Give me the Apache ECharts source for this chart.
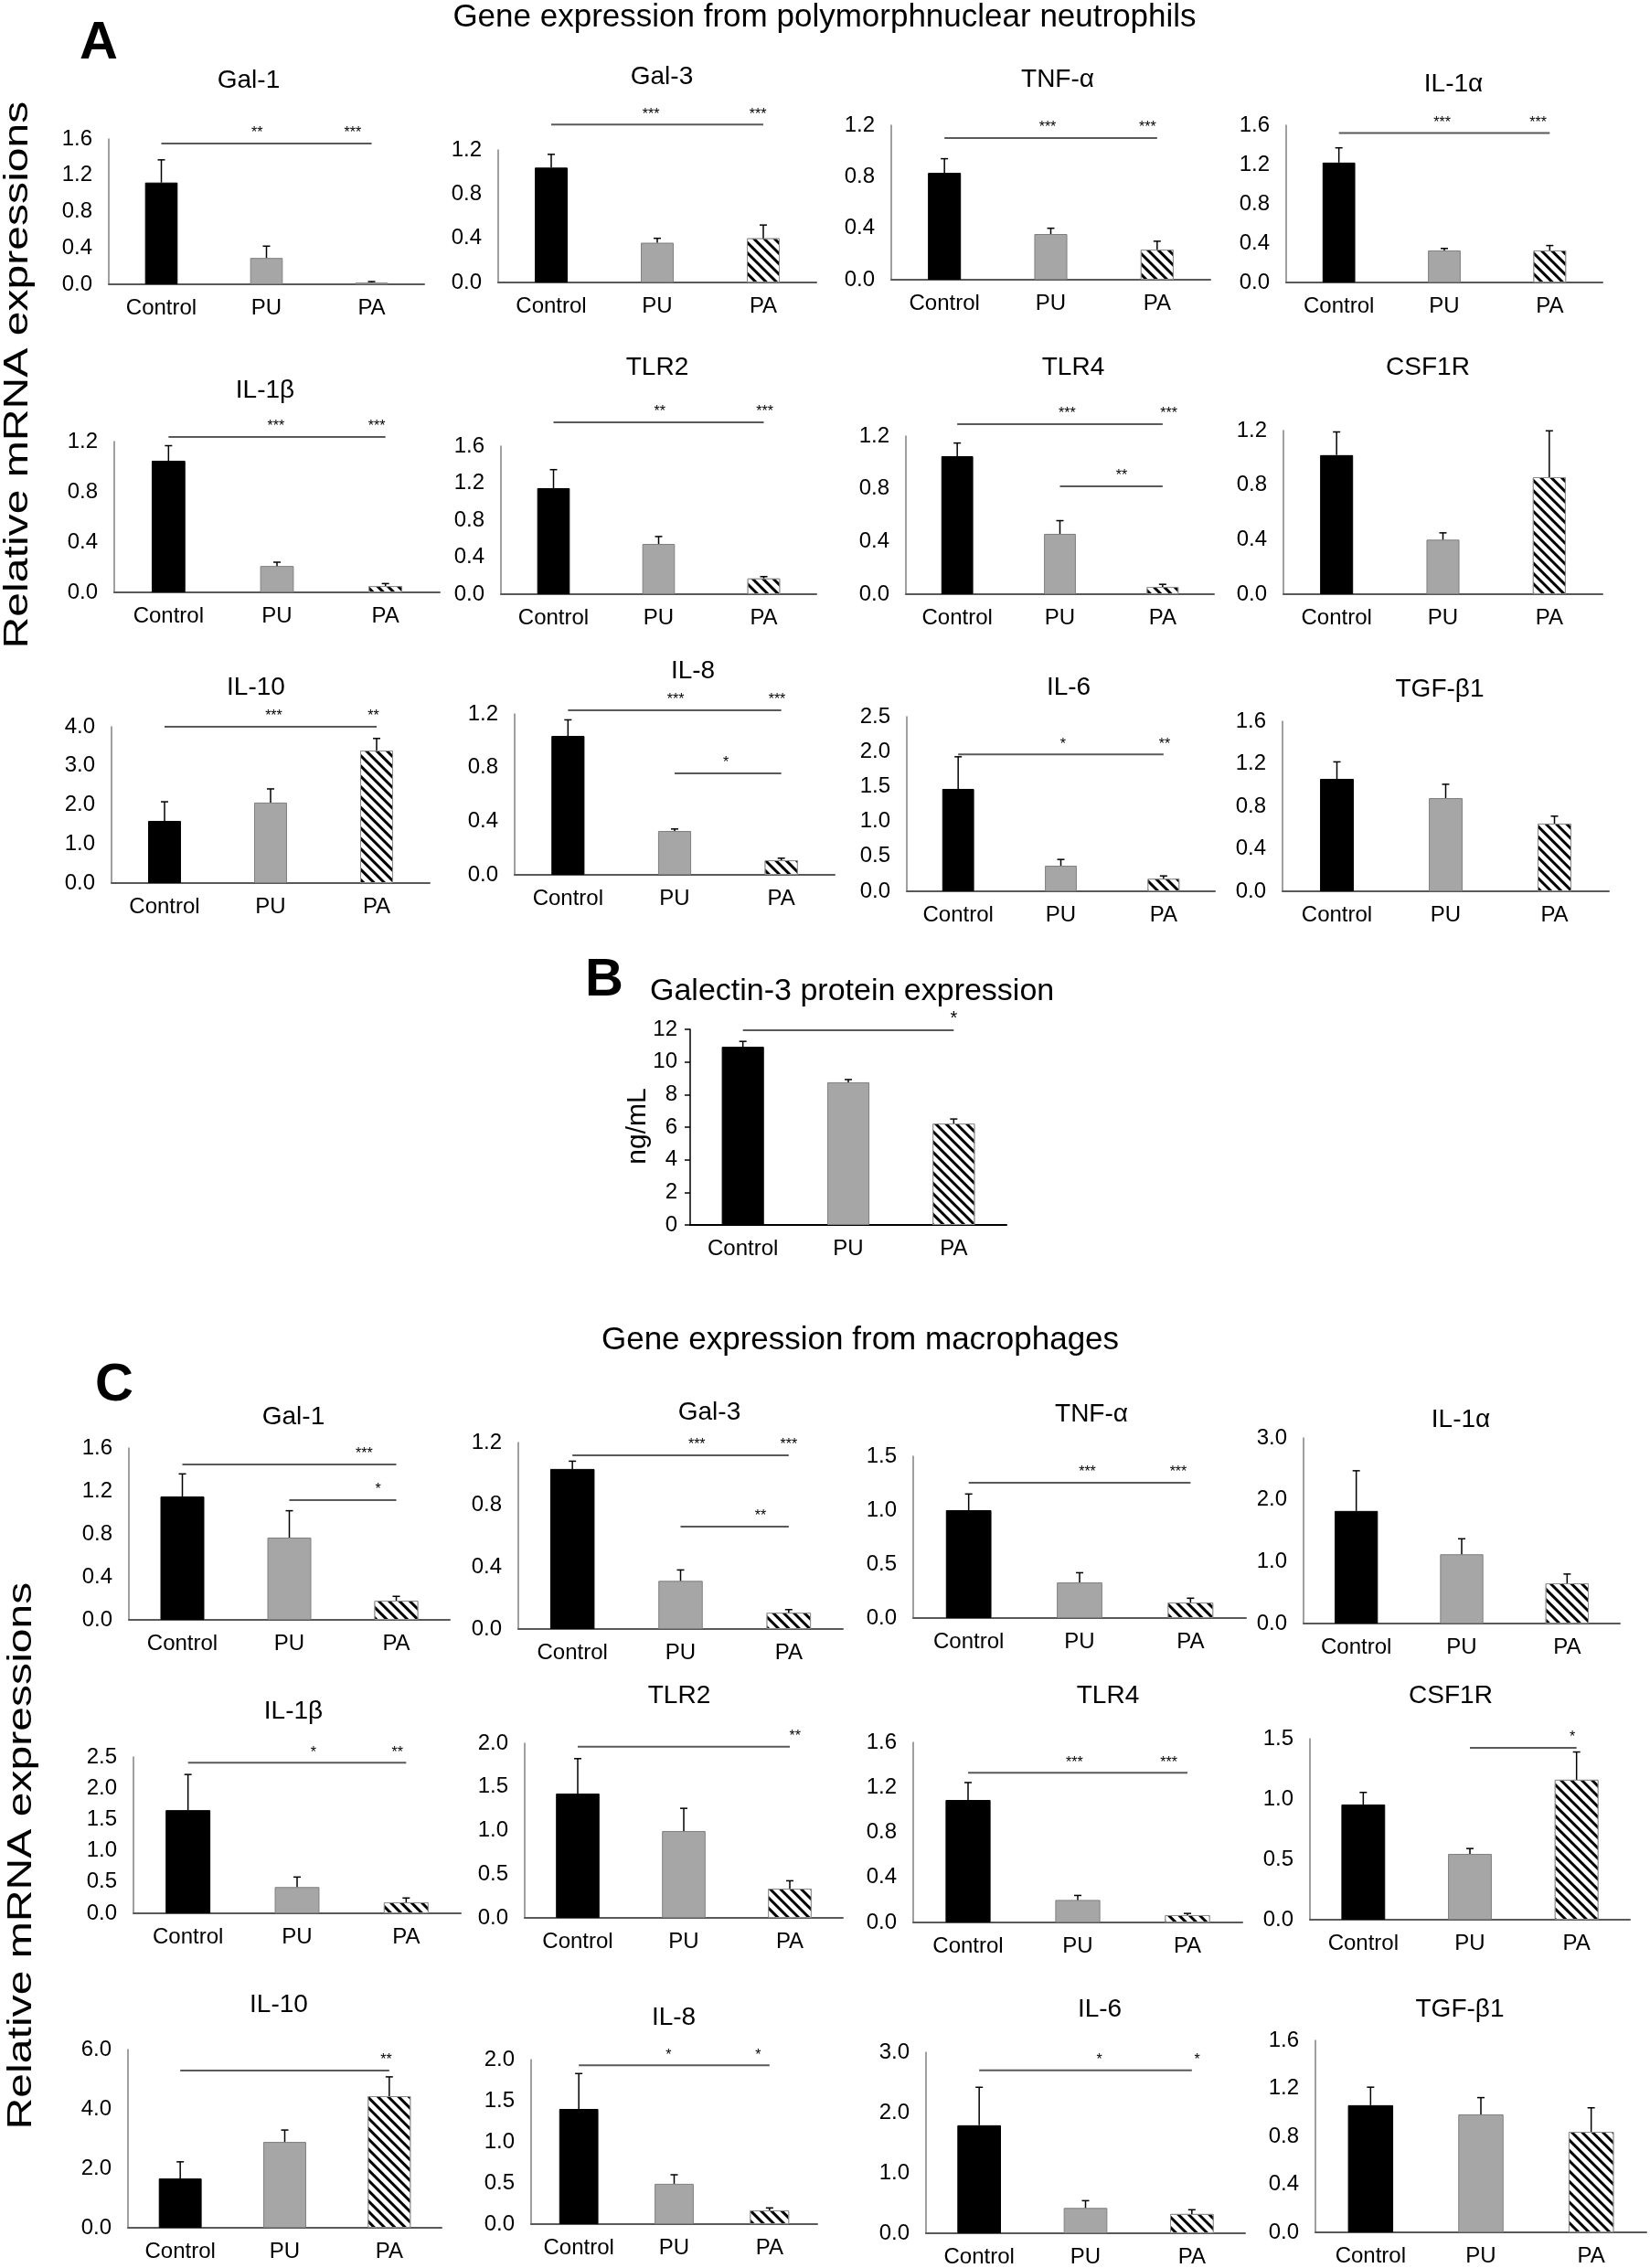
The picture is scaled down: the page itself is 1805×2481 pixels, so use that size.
<!DOCTYPE html>
<html>
<head>
<meta charset="utf-8">
<script src="https://cdn.jsdelivr.net/npm/echarts@6/dist/echarts.min.js"></script>
<style>
html,body{margin:0;padding:0;background:#fff;}
#chart{width:1805px;height:2481px;}
</style>
</head>
<body>
<div id="chart"></div>
<script>
// ---------------- DATA ----------------
const categories = ['Control', 'PU', 'PA'];
const geneNames = ['Gal-1', 'Gal-3', 'TNF-α', 'IL-1α', 'IL-1β', 'TLR2', 'TLR4', 'CSF1R', 'IL-10', 'IL-8', 'IL-6', 'TGF-β1'];

// Panel A: neutrophils
const neutrophilMean = [
  [1.12, 0.29, 0.02], [1.04, 0.36, 0.40], [0.83, 0.355, 0.234], [1.22, 0.326, 0.326],
  [1.047, 0.21, 0.05], [1.146, 0.543, 0.17], [1.047, 0.458, 0.055], [1.02, 0.40, 0.858],
  [1.59, 2.06, 3.39], [1.036, 0.327, 0.109], [1.466, 0.366, 0.18], [1.058, 0.877, 0.637]
];
const neutrophilErr = [
  [0.25, 0.13, 0.01], [0.12, 0.04, 0.12], [0.11, 0.045, 0.065], [0.15, 0.02, 0.05],
  [0.12, 0.03, 0.02], [0.2, 0.08, 0.02], [0.1, 0.1, 0.02], [0.17, 0.05, 0.34],
  [0.49, 0.35, 0.31], [0.12, 0.015, 0.015], [0.46, 0.09, 0.04], [0.16, 0.13, 0.07]
];
const neutrophilAxisMax = [1.6, 1.2, 1.2, 1.6, 1.2, 1.6, 1.2, 1.2, 4.0, 1.2, 2.5, 1.6];
const neutrophilAxisStep = [0.4, 0.4, 0.4, 0.4, 0.4, 0.4, 0.4, 0.4, 1.0, 0.4, 0.5, 0.4];
// [fromCategory, toCategory, level, [[stars, position in category units]]]
const neutrophilSig = [
  [[0, 2, 1.55, [['**', 0.91], ['***', 1.82]]]],
  [[0, 2, 1.43, [['***', 0.94], ['***', 1.95]]]],
  [[0, 2, 1.10, [['***', 0.97], ['***', 1.91]]]],
  [[0, 2, 1.52, [['***', 0.98], ['***', 1.89]]]],
  [[0, 2, 1.236, [['***', 0.99], ['***', 1.92]]]],
  [[0, 2, 1.857, [['**', 1.01], ['***', 2.01]]]],
  [[0, 2, 1.29, [['***', 1.07], ['***', 2.06]]], [1, 2, 0.818, [['**', 1.6]]]],
  [],
  [[0, 2, 4.0, [['***', 1.03], ['**', 1.97]]]],
  [[0, 2, 1.227, [['***', 1.01], ['***', 1.96]]], [1, 2, 0.757, [['*', 1.48]]]],
  [[0, 2, 1.96, [['*', 1.02], ['**', 2.01]]]],
  []
];

// Panel B: galectin-3 protein
const galectinMean = [10.93, 8.75, 6.22];
const galectinErr = [0.33, 0.17, 0.28];
const galectinTicks = [0, 2, 4, 6, 8, 10, 12];
const galectinSig = [[0, 2, 11.94, [['*', 2.0]]]];

// Panel C: macrophages
const macrophageMean = [
  [1.149, 0.766, 0.179], [1.03, 0.31, 0.105], [1.0, 0.33, 0.144], [1.82, 1.12, 0.65],
  [1.65, 0.42, 0.175], [1.424, 0.995, 0.335], [1.088, 0.20, 0.065], [0.955, 0.545, 1.16],
  [1.66, 2.89, 4.43], [1.40, 0.49, 0.167], [1.79, 0.42, 0.32], [1.06, 0.983, 0.838]
];
const macrophageErr = [
  [0.21, 0.25, 0.04], [0.05, 0.07, 0.02], [0.15, 0.09, 0.04], [0.65, 0.25, 0.15],
  [0.57, 0.16, 0.07], [0.4, 0.26, 0.09], [0.155, 0.04, 0.015], [0.1, 0.045, 0.23],
  [0.56, 0.4, 0.65], [0.43, 0.11, 0.03], [0.63, 0.12, 0.07], [0.15, 0.14, 0.2]
];
const macrophageAxisMax = [1.6, 1.2, 1.5, 3.0, 2.5, 2.0, 1.6, 1.5, 6.0, 2.0, 3.0, 1.6];
const macrophageAxisStep = [0.4, 0.4, 0.5, 1.0, 0.5, 0.5, 0.4, 0.5, 2.0, 0.5, 1.0, 0.4];
const macrophageSig = [
  [[0, 2, 1.447, [['***', 1.7]]], [1, 2, 1.115, [['*', 1.83]]]],
  [[0, 2, 1.118, [['***', 1.15], ['***', 2.0]]], [1, 2, 0.659, [['**', 1.74]]]],
  [[0, 2, 1.254, [['***', 1.07], ['***', 1.89]]]],
  [],
  [[0, 2, 2.41, [['*', 1.15], ['**', 1.92]]]],
  [[0, 2, 1.96, [['**', 2.05]]]],
  [[0, 2, 1.33, [['***', 0.97], ['***', 1.83]]]],
  [[1, 2, 1.424, [['*', 1.96]]]],
  [[0, 2, 5.29, [['**', 1.97]]]],
  [[0, 2, 1.93, [['*', 0.94], ['*', 1.88]]]],
  [[0, 2, 2.70, [['*', 1.13], ['*', 2.05]]]],
  []
];

// ---------------- LAYOUT ----------------
// plot rectangles [left, top, right, bottom] and title centres [x, y]
const neutrophilRect = [
  [119, 152, 464, 311], [545, 164, 893, 309], [975, 137, 1324, 306], [1407, 137, 1753, 309],
  [125, 483, 481, 648], [548, 488, 893, 650], [991, 477, 1328, 650], [1404, 471, 1753, 650],
  [122, 795, 470, 966], [563, 781, 913, 957], [992, 784, 1329, 975], [1403, 789, 1760, 975]
];
const neutrophilTitlePos = [
  [272, 88], [724, 84], [1157, 87], [1590, 92],
  [290, 427], [719, 402], [1174, 402], [1562, 402],
  [280, 752], [758, 734], [1169, 752], [1575, 754]
];
const macrophageRect = [
  [141, 1584, 492, 1772], [567, 1578, 922, 1782], [999, 1593, 1363, 1770], [1426, 1573, 1772, 1776],
  [146, 1922, 504, 2093], [574, 1907, 922, 2098], [999, 1906, 1359, 2103], [1433, 1902, 1783, 2100],
  [140, 2242, 483, 2437], [581, 2253, 894, 2433], [1013, 2245, 1362, 2443], [1439, 2232, 1801, 2442]
];
const macrophageTitlePos = [
  [321, 1550], [776, 1545], [1194, 1547], [1598, 1553],
  [321, 1872], [743, 1855], [1212, 1855], [1587, 1855],
  [305, 2193], [737, 2207], [1203, 2198], [1597, 2198]
];
const galectinRect = [755, 1126, 1101, 1340];

const FONT = "'Liberation Sans', Arial, Helvetica, sans-serif";

// ---------------- BUILD ----------------
const grids = [], xAxes = [], yAxes = [], series = [], graphics = [];

function barItemStyles() {
  return [
    { color: '#000000', borderColor: '#000000', borderWidth: 1 },
    { color: '#a6a6a6', borderColor: '#7f7f7f', borderWidth: 1 },
    {
      color: '#ffffff', borderColor: '#8c8c8c', borderWidth: 1,
      decal: {
        symbol: 'rect', symbolSize: 1,
        dashArrayX: [1, 0], dashArrayY: [3, 5],
        rotation: Math.PI / 4,
        color: '#000000', backgroundColor: '#ffffff'
      }
    }
  ];
}

function errRender(params, api) {
  const i = api.value(0), v = api.value(1), e = api.value(2);
  const p0 = api.coord([i, v]);
  const p1 = api.coord([i, v + e]);
  const cap = 4;
  return {
    type: 'group',
    children: [
      { type: 'line', shape: { x1: p0[0], y1: p0[1], x2: p1[0], y2: p1[1] }, style: { stroke: '#000', lineWidth: 1.5 } },
      { type: 'line', shape: { x1: p1[0] - cap, y1: p1[1], x2: p1[0] + cap, y2: p1[1] }, style: { stroke: '#000', lineWidth: 1.5 } }
    ]
  };
}

function sigRenderFactory(labels, starSize) {
  return function (params, api) {
    const from = api.value(0), lvl = api.value(1), to = api.value(2);
    const a = api.coord([from, lvl]);
    const b = api.coord([to, lvl]);
    const c0 = api.coord([0, lvl])[0];
    const bw = api.size([1, 0])[0];
    const children = [
      { type: 'line', shape: { x1: a[0], y1: a[1], x2: b[0], y2: b[1] }, style: { stroke: '#595959', lineWidth: 2 } }
    ];
    labels.forEach(function (lb) {
      children.push({
        type: 'text', x: c0 + lb[1] * bw, y: a[1] - 3,
        style: { text: lb[0], fontSize: starSize, fontFamily: FONT, fill: '#000', align: 'center', verticalAlign: 'bottom' }
      });
    });
    return { type: 'group', children: children };
  };
}

function addPanel(rect, means, errs, maxV, step, decimals, sigs, barWidth, opts) {
  opts = opts || {};
  const idx = grids.length;
  grids.push({ left: rect[0], top: rect[1], width: rect[2] - rect[0], height: rect[3] - rect[1], containLabel: false });
  const axisLineColor = opts.black ? '#000' : '#595959';
  xAxes.push({
    type: 'category', gridIndex: idx, data: categories,
    axisLine: { show: true, lineStyle: { color: axisLineColor, width: 2 } },
    axisTick: { show: false },
    axisLabel: { fontSize: 24, fontFamily: FONT, color: '#000', margin: 14, interval: 0 },
    splitLine: { show: false }
  });
  yAxes.push({
    type: 'value', gridIndex: idx, min: 0, max: maxV, interval: step,
    axisLine: { show: true, lineStyle: { color: opts.black ? '#000' : '#808080', width: 1.5 } },
    axisTick: opts.ticks ? { show: true, length: 6, lineStyle: { color: '#000', width: 1.5 } } : { show: false },
    splitLine: { show: false },
    axisLabel: {
      fontSize: 24, fontFamily: FONT, color: '#000', margin: opts.ticks ? 14 : 18,
      formatter: function (v) { return v.toFixed(decimals); }
    }
  });
  const styles = barItemStyles();
  series.push({
    type: 'bar', xAxisIndex: idx, yAxisIndex: idx, barWidth: barWidth, z: 2,
    data: means.map(function (m, i) { return { value: m, itemStyle: styles[i] }; }),
    animation: false
  });
  series.push({
    type: 'custom', xAxisIndex: idx, yAxisIndex: idx, z: 3, clip: false,
    renderItem: errRender,
    encode: { x: 0, y: 1 },
    data: means.map(function (m, i) { return [i, m, errs[i]]; }),
    animation: false, silent: true
  });
  sigs.forEach(function (s) {
    series.push({
      type: 'custom', xAxisIndex: idx, yAxisIndex: idx, z: 4, clip: false,
      renderItem: sigRenderFactory(s[3], opts.starSize || 16),
      encode: { x: 0, y: 1 },
      data: [[s[0], s[2], s[1]]],
      animation: false, silent: true
    });
  });
}

function addText(text, x, y, size, extra) {
  extra = extra || {};
  graphics.push({
    type: 'text', x: x, y: y, rotation: extra.rotation || 0,
    scaleX: extra.scaleX || 1, scaleY: extra.scaleY || 1,
    style: {
      text: text, fontSize: size, fontFamily: FONT, fontWeight: extra.bold ? 'bold' : 'normal',
      fill: '#000', align: extra.align || 'center', verticalAlign: 'middle'
    }
  });
}

// Panel A
for (let i = 0; i < 12; i++) {
  addPanel(neutrophilRect[i], neutrophilMean[i], neutrophilErr[i], neutrophilAxisMax[i], neutrophilAxisStep[i], 1, neutrophilSig[i], '31%');
  addText(geneNames[i], neutrophilTitlePos[i][0], neutrophilTitlePos[i][1], 28);
}
// Panel B
addPanel(galectinRect, galectinMean, galectinErr, galectinTicks[galectinTicks.length - 1], galectinTicks[1] - galectinTicks[0], 0, galectinSig, '40%',
  { black: true, ticks: true, starSize: 20 });
// Panel C
for (let i = 0; i < 12; i++) {
  addPanel(macrophageRect[i], macrophageMean[i], macrophageErr[i], macrophageAxisMax[i], macrophageAxisStep[i], 1, macrophageSig[i], '41%');
  addText(geneNames[i], macrophageTitlePos[i][0], macrophageTitlePos[i][1], 28);
}

// Headings / letters / axis names
addText('Gene expression from polymorphnuclear neutrophils', 902, 19, 35);
addText('Gene expression from macrophages', 941, 1466, 35);
addText('A', 108, 48, 58, { bold: true });
addText('B', 661, 1073, 58, { bold: true });
addText('C', 125, 1516, 58, { bold: true });
addText('Galectin-3 protein expression', 711, 1085, 34, { align: 'left' });
addText('ng/mL', 698, 1232, 30, { rotation: Math.PI / 2 });
addText('Relative mRNA expressions', 20, 410, 37, { rotation: Math.PI / 2, scaleX: 1.3 });
addText('Relative mRNA expressions', 24, 2030, 37, { rotation: Math.PI / 2, scaleX: 1.3 });

const chart = echarts.init(document.getElementById('chart'), null, { renderer: 'canvas' });
chart.setOption({
  backgroundColor: '#ffffff',
  animation: false,
  grid: grids,
  xAxis: xAxes,
  yAxis: yAxes,
  series: series,
  graphic: graphics
});
</script>
</body>
</html>
